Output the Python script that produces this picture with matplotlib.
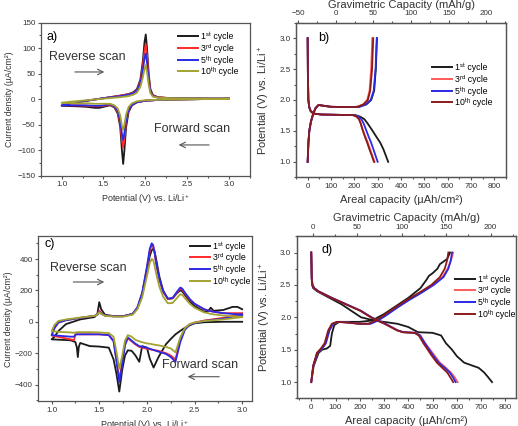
import matplotlib
matplotlib.use("Agg")
import matplotlib.pyplot as plt
from matplotlib.ticker import MultipleLocator

plt.rcParams['font.family'] = ['Liberation Sans', 'DejaVu Sans']
plt.rcParams['mathtext.fontset'] = 'custom'
plt.rcParams['mathtext.rm'] = 'Liberation Sans'
plt.rcParams['mathtext.it'] = 'Liberation Sans:italic'

LABELS = ['1ˢᵗ cycle', '3ʳᵈ cycle', '5ᵗʰ cycle', '10ᵗʰ cycle']
CV_COLORS = ['#1a1a1a', '#ff2a2a', '#2a2ae6', '#a3a332']
GC_COLORS = ['#1a1a1a', '#ff5a5a', '#2a2ae6', '#8b1a1a']

# ---- panel a: CV, forward (cathodic) branch 3.0 -> 1.0 V
A_FWD_V = [3.0, 2.6, 2.2, 2.0, 1.9, 1.84, 1.80, 1.77, 1.75, 1.735, 1.72, 1.70,
           1.67, 1.63, 1.58, 1.5, 1.45, 1.4, 1.3, 1.2, 1.0]
A_FWD_I = [
    [1, 0, -1, -3, -6, -12, -25, -55, -100, -127, -100, -55, -28, -16, -12, -15, -17, -17, -15, -14, -13],
    [1, 0, -1, -3, -6, -11, -22, -45, -78, -95, -80, -48, -25, -15, -11, -13, -14, -14, -13, -12, -12],
    [1, 0, -1, -3, -6, -11, -20, -40, -66, -80, -68, -42, -23, -14, -10, -12, -13, -13, -12, -12, -12],
    [1, 0, -1, -2, -4, -8, -15, -30, -50, -60, -52, -32, -18, -12, -9, -9, -9, -9, -8, -8, -7],
]
# reverse (anodic) branch 1.0 -> 3.0 V
A_REV_V = [1.0, 1.1, 1.3, 1.5, 1.7, 1.8, 1.86, 1.9, 1.94, 1.97, 1.99, 2.005,
           2.02, 2.04, 2.06, 2.09, 2.15, 2.3, 2.6, 3.0]
A_REV_I = [
    [-13, -8, -3, 2, 7, 10, 14, 20, 38, 75, 112, 127, 100, 50, 20, 8, 4, 2, 1.5, 1],
    [-12, -8, -3, 2, 7, 10, 13, 18, 34, 65, 95, 108, 86, 43, 17, 7, 4, 2, 1.5, 1],
    [-12, -8, -3, 2, 6, 9, 12, 17, 31, 57, 80, 90, 72, 37, 15, 6, 3, 2, 1.5, 1],
    [-7, -5, -2, 1, 4, 6, 9, 13, 24, 43, 59, 67, 53, 28, 12, 5, 3, 2, 1.5, 1],
]

# ---- panel c: CV, forward branch 3.0 -> 1.0 V
C_FWD_V = [3.0, 2.8, 2.6, 2.5, 2.45, 2.4, 2.35, 2.3, 2.25, 2.2, 2.12, 2.07, 2.03,
           2.0, 1.95, 1.92, 1.88, 1.84, 1.8, 1.77, 1.74, 1.71, 1.68, 1.65, 1.6,
           1.5, 1.4, 1.3, 1.285, 1.275, 1.265, 1.25, 1.235, 1.2, 1.1, 1.0]
C_FWD_I = [
    [0, 0, -3, -10, -22, -38, -58, -80, -110, -143, -227, -292, -235, -165, -155,
     -255, -215, -185, -182, -215, -310, -445, -330, -240, -165, -158, -155, -135,
     -160, -225, -165, -130, -126, -118, -115, -112],
    [50, 25, 8, -5, -15, -40, -110, -240, -215, -200, -185, -180, -175, -172, -165,
     -160, -145, -125, -105, -140, -260, -370, -240, -120, -85, -80, -80, -80,
     -80, -80, -80, -80, -118, -112, -100, -88],
    [40, 20, 5, -8, -20, -50, -130, -255, -225, -205, -190, -180, -172, -165, -160,
     -155, -140, -120, -100, -150, -280, -385, -250, -125, -85, -80, -80, -80,
     -80, -80, -80, -82, -95, -95, -90, -85],
    [30, 15, 5, -5, -15, -40, -100, -195, -170, -160, -150, -145, -140, -138, -130,
     -125, -115, -95, -85, -120, -220, -300, -190, -95, -72, -68, -66, -66,
     -66, -66, -66, -68, -70, -68, -65, -60],
]
# reverse branch 1.0 -> 3.0 V
C_REV_V = [1.0, 1.03, 1.07, 1.15, 1.3, 1.45, 1.48, 1.5, 1.52, 1.56, 1.65, 1.75,
           1.85, 1.9, 1.95, 2.0, 2.03, 2.05, 2.065, 2.08, 2.1, 2.13, 2.17, 2.22,
           2.27, 2.32, 2.35, 2.37, 2.4, 2.45, 2.5, 2.6, 2.64, 2.67, 2.7, 2.8, 2.9,
           2.95, 3.0]
C_REV_I = [
    [-112, -95, -60, -15, 15, 30, 50, 125, 80, 45, 36, 36, 50, 85, 170, 320, 420,
     455, 465, 450, 390, 290, 200, 145, 150, 185, 200, 195, 170, 130, 100, 65, 65,
     90, 70, 75, 95, 95, 80],
    [-88, -40, -5, 10, 25, 38, 45, 72, 55, 40, 35, 35, 50, 90, 180, 340, 450, 490,
     480, 440, 360, 270, 190, 145, 150, 190, 210, 205, 180, 140, 115, 80, 72, 68,
     64, 55, 55, 55, 55],
    [-85, -40, -5, 10, 25, 38, 45, 65, 52, 40, 35, 35, 50, 92, 185, 350, 465, 500,
     490, 445, 365, 275, 195, 148, 152, 195, 218, 212, 185, 145, 115, 80, 72, 68,
     64, 55, 50, 48, 48],
    [-60, -20, 5, 15, 27, 38, 45, 62, 50, 38, 33, 33, 45, 80, 155, 290, 375, 400,
     395, 360, 300, 225, 160, 118, 120, 155, 175, 172, 150, 115, 90, 60, 55, 50,
     47, 40, 35, 33, 32],
]

# ---- panel b: galvanostatic, discharge (shared voltage grid)
B_DIS_V = [3.0, 2.4, 2.0, 1.88, 1.82, 1.78, 1.765, 1.755, 1.73, 1.69, 1.62, 1.52,
           1.42, 1.31, 1.2, 1.1, 1.0]
B_DIS_Q = [
    [0, 1, 3, 7, 13, 25, 60, 205, 225, 243, 257, 275, 292, 311, 325, 335, 345],
    [0, 1, 3, 7, 13, 25, 60, 195, 210, 220, 228, 236, 246, 258, 268, 277, 287],
    [0, 1, 3, 7, 13, 25, 60, 200, 218, 230, 240, 250, 260, 272, 282, 291, 300],
    [0, 1, 3, 7, 13, 25, 60, 195, 210, 220, 227, 235, 244, 255, 265, 275, 284],
]
B_CHG_V = [1.0, 1.3, 1.5, 1.65, 1.78, 1.87, 1.92, 1.91, 1.89, 1.885, 1.89, 1.93,
           2.0, 2.15, 2.5, 3.0]
B_CHG_Q = [
    [0, 3, 7, 14, 24, 34, 47, 62, 100, 180, 222, 252, 272, 285, 292, 297],
    [0, 3, 7, 14, 24, 34, 47, 62, 100, 180, 212, 238, 255, 265, 272, 277],
    [0, 3, 7, 14, 24, 34, 47, 62, 100, 180, 220, 250, 270, 283, 291, 296],
    [0, 3, 7, 14, 24, 34, 47, 62, 100, 180, 214, 240, 258, 268, 276, 281],
]

# ---- panel d: galvanostatic
D_DIS_V = [3.0, 2.6, 2.5, 2.45, 2.4, 2.3, 2.2, 2.1, 2.0, 1.95, 1.9, 1.85, 1.8,
           1.77, 1.76, 1.72, 1.6, 1.5, 1.4, 1.3, 1.22, 1.15, 1.08, 1.0]
D_DIS_Q = [
    [0, 2, 3, 8, 25, 75, 125, 165, 205, 260, 355, 400, 425, 440, 500, 535, 555,
     580, 600, 630, 690, 712, 728, 745],
    [0, 2, 5, 12, 30, 85, 145, 205, 248, 275, 305, 330, 355, 380, 430, 450, 470,
     490, 510, 530, 555, 575, 590, 603],
    [0, 2, 5, 12, 30, 85, 145, 205, 248, 275, 305, 330, 355, 380, 428, 448, 468,
     486, 505, 525, 550, 570, 583, 595],
    [0, 2, 5, 12, 30, 83, 142, 202, 245, 272, 302, 327, 352, 377, 425, 443, 462,
     480, 498, 518, 540, 560, 572, 585],
]
D_CHG_V = [1.0, 1.25, 1.45, 1.52, 1.6, 1.8, 1.9, 1.93, 1.92, 1.9, 1.9, 1.95, 2.02,
           2.15, 2.27, 2.38, 2.5, 2.62, 2.75, 2.88, 3.0]
D_CHG_Q = [
    None,
    [0, 8, 25, 45, 60, 75, 90, 110, 150, 200, 240, 270, 300, 350, 400, 450, 500,
     540, 562, 576, 585],
    [0, 8, 25, 45, 60, 75, 90, 110, 150, 200, 245, 275, 305, 355, 405, 455, 505,
     545, 565, 575, 580],
    [0, 8, 23, 40, 55, 70, 85, 105, 145, 195, 235, 265, 295, 345, 395, 445, 495,
     530, 550, 560, 565],
]
D_CHG1_V = [1.0, 1.25, 1.45, 1.5, 1.52, 1.56, 1.75, 1.88, 1.93, 1.93, 1.95, 2.05,
            2.2, 2.3, 2.45, 2.58, 2.64, 2.68, 2.75, 2.82, 2.86, 2.9, 3.0]
D_CHG1_Q = [0, 10, 30, 45, 65, 78, 85, 95, 115, 200, 250, 300, 360, 400, 450, 475,
            485, 500, 520, 530, 545, 560, 572]

W, H = 518, 426
fig = plt.figure(figsize=(W / 100, H / 100), dpi=100)


def box(l, t, r, b):
    return [l / W, 1 - b / H, (r - l) / W, (b - t) / H]


def style(ax):
    for s in ax.spines.values():
        s.set_color('#555555')
        s.set_linewidth(0.9)
    ax.tick_params(which='both', direction='out', colors='#555555',
                   labelcolor='#333333', labelsize=5.8, width=0.8, pad=1.5,
                   top=False, right=False)
    ax.tick_params(which='major', length=2.4)
    ax.tick_params(which='minor', length=1.4)


def legend(ax, x, y, colors):
    handles = [plt.Line2D([], [], color=c, lw=1.4) for c in colors]
    ax.legend(handles, LABELS, loc='upper left', bbox_to_anchor=(x, y),
              frameon=False, fontsize=6.3, handlelength=2.3, handletextpad=0.3,
              labelspacing=0.27, borderpad=0, borderaxespad=0)


def scan_text(ax, text, tx, ty, x0, x1, ya):
    ax.text(tx, ty, text, transform=ax.transAxes, ha='center', va='center',
            fontsize=9, color='#333333')
    ax.annotate('', xy=(x1, ya), xytext=(x0, ya), xycoords='axes fraction',
                arrowprops=dict(arrowstyle='->', color='#555555', lw=0.8))


# panel a
ax = fig.add_axes(box(40.7, 22.7, 250, 175.7))
for i in range(4):
    ax.plot(A_FWD_V + A_REV_V, A_FWD_I[i] + A_REV_I[i], color=CV_COLORS[i], lw=1.3)
ax.set_xlim(0.75, 3.25)
ax.set_ylim(-150, 150)
ax.xaxis.set_major_locator(MultipleLocator(0.5))
ax.xaxis.set_minor_locator(MultipleLocator(0.25))
ax.yaxis.set_major_locator(MultipleLocator(50))
ax.yaxis.set_minor_locator(MultipleLocator(25))
style(ax)
ax.set_xlabel(r'Potential (V) vs. Li/Li$^+$', fontsize=6.5, color='#333333')
ax.set_ylabel('Current density (µA/cm²)', fontsize=6.3, color='#333333')
ax.xaxis.set_label_coords(0.5, -0.107)
ax.yaxis.set_label_coords(-0.128, 0.5)
ax.text(0.03, 0.907, 'a)', transform=ax.transAxes, fontsize=9, va='center')
legend(ax, 0.656, 0.94, CV_COLORS)
scan_text(ax, 'Reverse scan', 0.221, 0.776, 0.15, 0.317, 0.678)
scan_text(ax, 'Forward scan', 0.723, 0.305, 0.818, 0.646, 0.201)

# panel b
ax = fig.add_axes(box(296, 22.7, 506, 177.3))
for i in range(4):
    ax.plot(B_DIS_Q[i], B_DIS_V, color=GC_COLORS[i], lw=1.3)
    ax.plot(B_CHG_Q[i], B_CHG_V, color=GC_COLORS[i], lw=1.3)
ax.set_xlim(-50, 850)
ax.set_ylim(0.75, 3.25)
ax.xaxis.set_major_locator(MultipleLocator(100))
ax.xaxis.set_minor_locator(MultipleLocator(50))
ax.yaxis.set_major_locator(MultipleLocator(0.5))
ax.yaxis.set_minor_locator(MultipleLocator(0.25))
style(ax)
ax.set_xlabel('Areal capacity (µAh/cm²)', fontsize=8, color='#333333')
ax.set_ylabel(r'Potential (V) vs. Li/Li$^+$', fontsize=8, color='#333333')
ax.xaxis.set_label_coords(0.5, -0.114)
ax.yaxis.set_label_coords(-0.112, 0.5)
ax.text(0.105, 0.90, 'b)', transform=ax.transAxes, fontsize=9, va='center')
legend(ax, 0.648, 0.74, GC_COLORS)
top = ax.twiny()
top.set_xlim((-50 - 120) / 3.23, (850 - 120) / 3.23)
top.xaxis.set_major_locator(MultipleLocator(50))
top.xaxis.set_minor_locator(MultipleLocator(25))
style(top)
top.tick_params(which='both', top=True, labeltop=True, bottom=False, labelbottom=False)
top.set_xlabel('Gravimetric Capacity (mAh/g)', fontsize=8, color='#333333')
top.xaxis.set_label_coords(0.5, 1.095)

# panel c
ax = fig.add_axes(box(38.3, 236.3, 251.7, 401.3))
for i in range(4):
    ax.plot(C_FWD_V + C_REV_V, C_FWD_I[i] + C_REV_I[i], color=CV_COLORS[i], lw=1.3)
ax.set_xlim(0.86, 3.1)
ax.set_ylim(-507, 545)
ax.xaxis.set_major_locator(MultipleLocator(0.5))
ax.xaxis.set_minor_locator(MultipleLocator(0.25))
ax.yaxis.set_major_locator(MultipleLocator(200))
ax.yaxis.set_minor_locator(MultipleLocator(100))
style(ax)
ax.set_xlabel(r'Potential (V) vs. Li/Li$^+$', fontsize=6.5, color='#333333')
ax.set_ylabel('Current density (µA/cm²)', fontsize=6.3, color='#333333')
ax.xaxis.set_label_coords(0.5, -0.101)
ax.yaxis.set_label_coords(-0.12, 0.5)
ax.text(0.027, 0.953, 'c)', transform=ax.transAxes, fontsize=9, va='center')
legend(ax, 0.711, 0.97, CV_COLORS)
scan_text(ax, 'Reverse scan', 0.233, 0.808, 0.151, 0.322, 0.723)
scan_text(ax, 'Forward scan', 0.758, 0.222, 0.861, 0.687, 0.149)

# panel d
ax = fig.add_axes(box(296.7, 236.3, 516.3, 398.3))
ax.plot(D_DIS_Q[0], D_DIS_V, color=GC_COLORS[0], lw=1.3)
ax.plot(D_CHG1_Q, D_CHG1_V, color=GC_COLORS[0], lw=1.3)
for i in range(1, 4):
    ax.plot(D_DIS_Q[i], D_DIS_V, color=GC_COLORS[i], lw=1.3)
    ax.plot(D_CHG_Q[i], D_CHG_V, color=GC_COLORS[i], lw=1.3)
ax.set_xlim(-60, 845)
ax.set_ylim(0.75, 3.25)
ax.xaxis.set_major_locator(MultipleLocator(100))
ax.xaxis.set_minor_locator(MultipleLocator(50))
ax.yaxis.set_major_locator(MultipleLocator(0.5))
ax.yaxis.set_minor_locator(MultipleLocator(0.25))
style(ax)
ax.set_xlabel('Areal capacity (µAh/cm²)', fontsize=8, color='#333333')
ax.set_ylabel(r'Potential (V) vs. Li/Li$^+$', fontsize=8, color='#333333')
ax.xaxis.set_label_coords(0.5, -0.109)
ax.yaxis.set_label_coords(-0.110, 0.5)
ax.text(0.115, 0.917, 'd)', transform=ax.transAxes, fontsize=9, va='center')
legend(ax, 0.721, 0.765, GC_COLORS)
top = ax.twiny()
top.set_xlim((-60 - 7) / 3.66, (845 - 7) / 3.66)
top.xaxis.set_major_locator(MultipleLocator(50))
top.xaxis.set_minor_locator(MultipleLocator(25))
style(top)
top.tick_params(which='both', top=True, labeltop=True, bottom=False, labelbottom=False)
top.set_xlabel('Gravimetric Capacity (mAh/g)', fontsize=8, color='#333333')
top.xaxis.set_label_coords(0.5, 1.094)

fig.savefig('out.png', dpi=100)
